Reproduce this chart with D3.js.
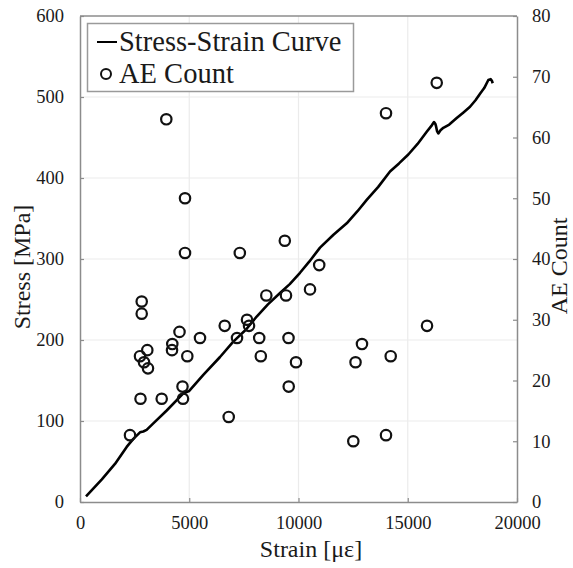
<!DOCTYPE html>
<html>
<head>
<meta charset="utf-8">
<script src="https://cdn.jsdelivr.net/npm/d3@7"></script>
<style>
  html, body { margin: 0; padding: 0; background: #fff; }
  svg { display: block; }
  svg text { font-family: "Liberation Serif", "Times New Roman", serif; }
</style>
</head>
<body>
<svg id="chart" width="573" height="568"></svg>
<script>
// ---- Data ----
const curveStrain = [275, 1000, 1600, 2137, 2440, 2746, 2897, 3050, 3355, 3968, 4728, 4989, 5643, 6408, 7016, 7600, 8087, 8600, 9154, 9600, 10069, 10500, 10985, 11600, 12207, 12700, 13122, 13650, 14188, 14600, 15026, 15450, 15868, 16100, 16202, 16260, 16294, 16340, 16399, 16500, 16628, 16900, 17241, 17550, 17850, 18100, 18308, 18500, 18688, 18797, 18850, 18889];
const curveStress = [7, 28, 47, 68, 78, 86, 87, 89, 97, 113, 134, 137, 157, 179, 198, 213, 229, 244, 258, 269, 283, 297, 314, 330, 344, 359, 373, 389, 408, 418, 429, 442, 457, 465, 469, 467, 464, 458, 455, 459, 462, 466, 474, 481, 488, 496, 504, 511, 521, 522, 520, 517];

const aeStrain = [2288, 2769, 3739, 4714, 2746, 2929, 3112, 3080, 2824, 2824, 4224, 4211, 4554, 4911, 4691, 5492, 6806, 6623, 7186, 7643, 7735, 8202, 8275, 8527, 9428, 9543, 9886, 9552, 10527, 10948, 9373, 7314, 4806, 4806, 3950, 12610, 12905, 14220, 12508, 14005, 15882, 14005, 16326];
const aeCount = [11, 17, 17, 17, 24, 23, 22, 25, 33, 31, 26, 25, 28, 24, 19, 27, 14, 29, 27, 30, 29, 27, 24, 34, 34, 27, 23, 19, 35, 39, 43, 41, 41, 50, 63, 23, 26, 24, 10, 11, 29, 64, 69];

const xTicks = [0, 5000, 10000, 15000, 20000];
const yLeftTicks = [0, 100, 200, 300, 400, 500, 600];
const yRightTicks = [0, 10, 20, 30, 40, 50, 60, 70, 80];

const seriesNames = ["Stress-Strain Curve", "AE Count"];
const xTitle = "Strain [με]";
const yLeftTitle = "Stress [MPa]";
const yRightTitle = "AE Count";

// ---- Layout ----
const L = 80, R = 517, T = 16, B = 502;
const axisColor = "#8c8c8c";
const gridColor = "#ebebeb";
const textColor = "#1a1a1a";
const serif = '"Liberation Serif", "Times New Roman", serif';

const svg = d3.select("#chart");

const x = d3.scaleLinear().domain([0, 20000]).range([L, R]);
const yL = d3.scaleLinear().domain([0, 600]).range([B, T]);
const yR = d3.scaleLinear().domain([0, 80]).range([B, T]);

// gridlines
svg.append("g").selectAll("line").data(xTicks.slice(1, -1)).join("line")
  .attr("x1", d => x(d)).attr("x2", d => x(d))
  .attr("y1", T).attr("y2", B)
  .attr("stroke", gridColor).attr("stroke-width", 1.2);
svg.append("g").selectAll("line").data(yLeftTicks.slice(1, -1)).join("line")
  .attr("x1", L).attr("x2", R)
  .attr("y1", d => yL(d)).attr("y2", d => yL(d))
  .attr("stroke", gridColor).attr("stroke-width", 1.2);

// axes
function styleAxis(g) {
  g.attr("font-family", serif);
  g.select(".domain").attr("stroke", axisColor).attr("stroke-width", 1.5);
  g.selectAll(".tick line").attr("stroke", axisColor).attr("stroke-width", 1.2);
  g.selectAll(".tick text").attr("fill", textColor)
    .style("font-family", serif)
    .style("font-size", "18.5px");
}

const gx = svg.append("g").attr("transform", `translate(0,${B})`)
  .call(d3.axisBottom(x).tickValues(xTicks).tickFormat(d3.format("d")).tickSizeInner(-4).tickSizeOuter(0).tickPadding(14));
styleAxis(gx);

const gyl = svg.append("g").attr("transform", `translate(${L},0)`)
  .call(d3.axisLeft(yL).tickValues(yLeftTicks).tickFormat(d3.format("d")).tickSizeInner(-4).tickSizeOuter(0).tickPadding(16));
styleAxis(gyl);

const gyr = svg.append("g").attr("transform", `translate(${R},0)`)
  .call(d3.axisRight(yR).tickValues(yRightTicks).tickFormat(d3.format("d")).tickSizeInner(-4).tickSizeOuter(0).tickPadding(15));
styleAxis(gyr);

// top border
svg.append("line").attr("x1", L).attr("x2", R).attr("y1", T).attr("y2", T)
  .attr("stroke", axisColor).attr("stroke-width", 1.5);

// curve
const curveData = curveStrain.map((s, i) => [s, curveStress[i]]);
svg.append("path").datum(curveData)
  .attr("d", d3.line().x(d => x(d[0])).y(d => yL(d[1])))
  .attr("fill", "none").attr("stroke", "#000").attr("stroke-width", 2.6)
  .attr("stroke-linejoin", "round");

// AE scatter
svg.append("g").selectAll("circle").data(aeStrain.map((s, i) => [s, aeCount[i]])).join("circle")
  .attr("cx", d => x(d[0])).attr("cy", d => yR(d[1])).attr("r", 5.2)
  .attr("fill", "none").attr("stroke", "#111").attr("stroke-width", 2.2);

// legend
const lg = svg.append("g");
lg.append("rect").attr("x", 87.5).attr("y", 23.5).attr("width", 266).attr("height", 68)
  .attr("fill", "#fff").attr("stroke", "#9a9a9a").attr("stroke-width", 1.5);
lg.append("line").attr("x1", 97).attr("x2", 117).attr("y1", 42).attr("y2", 42)
  .attr("stroke", "#000").attr("stroke-width", 2);
lg.append("circle").attr("cx", 106).attr("cy", 74).attr("r", 5)
  .attr("fill", "none").attr("stroke", "#111").attr("stroke-width", 2);
lg.selectAll("text").data(seriesNames).join("text")
  .attr("x", 119).attr("y", (d, i) => 51 + i * 32)
  .attr("fill", textColor).style("font-family", serif).style("font-size", "28.5px").text(d => d);

// axis titles
svg.append("text").attr("x", 311).attr("y", 557).attr("text-anchor", "middle")
  .attr("fill", textColor).style("font-family", serif).style("font-size", "24px").text(xTitle);
svg.append("text").attr("transform", "translate(30,267) rotate(-90)").attr("text-anchor", "middle")
  .attr("fill", textColor).style("font-family", serif).style("font-size", "24px").text(yLeftTitle);
svg.append("text").attr("transform", "translate(567,266) rotate(-90)").attr("text-anchor", "middle")
  .attr("fill", textColor).style("font-family", serif).style("font-size", "24px").text(yRightTitle);
</script>
</body>
</html>
